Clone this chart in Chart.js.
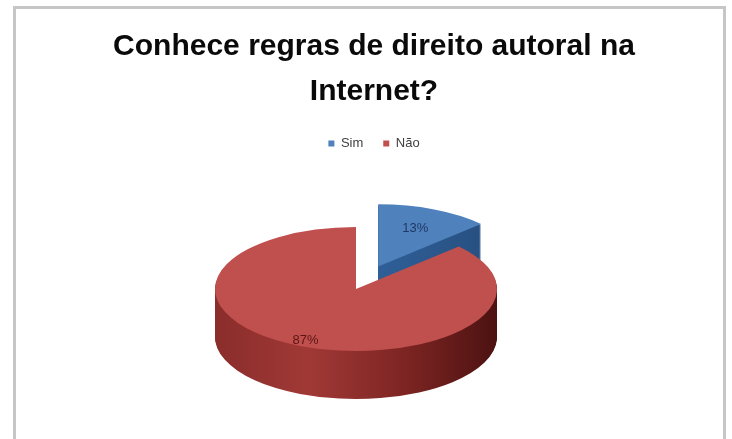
<!DOCTYPE html>
<html>
<head>
<meta charset="utf-8">
<script src="https://cdn.jsdelivr.net/npm/chart.js@4.4.0/dist/chart.umd.min.js"></script>
<style>
  body { margin: 0; background: #fff; }
  #wrap { position: relative; width: 732px; height: 439px; overflow: hidden; }
  #frame { position: absolute; left: 13px; top: 6px; width: 707px; height: 450px;
           border: 3px solid #c6c6c6; border-bottom: none; pointer-events: none; }
</style>
</head>
<body>
<div id="wrap">
  <canvas id="pieChart" width="732" height="439"></canvas>
  <div id="frame"></div>
</div>
<script>
const titleLines = ['Conhece regras de direito autoral na', 'Internet?'];
const categories = ['Sim', 'Não'];
const percentValues = [13, 87];
const sliceColors = ['#4f81bd', '#c0504d'];
const labelColors = ['#1f3864', '#5a1514'];
const sideColors = [
  ['#2c5990', '#2f5f98', '#244b79'],
  ['#8a2d2b', '#a03936', '#7e2523', '#4c1211']
];

const FONT = '"Liberation Sans", Arial, sans-serif';

// fake 3D: squash the pie and stack darker copies underneath
const pie3d = {
  id: 'pie3d',
  beforeDatasetsDraw(chart, args, opts) {
    const ctx = chart.ctx;
    const arcs = chart.getDatasetMeta(0).data;

    function place(arc, i, d) {
      const ex = opts.explode[i] || 0;
      const mid = (arc.startAngle + arc.endAngle) / 2;
      ctx.translate(opts.shiftX, opts.shiftY + d);
      ctx.translate(arc.x, arc.y);
      ctx.scale(1, opts.tilt);
      ctx.translate(-arc.x, -arc.y);
      ctx.translate(Math.cos(mid) * ex, Math.sin(mid) * ex);
    }

    function drawAs(arc, fill) {
      const ghost = Object.create(arc);
      ghost.options = Object.assign({}, arc.options, { backgroundColor: fill, borderWidth: 0, offset: 0 });
      arc.draw.call(ghost, ctx);
    }

    // sides, back slice first
    arcs.forEach((arc, i) => {
      for (let d = opts.depth; d > 0; d--) {
        ctx.save();
        place(arc, i, d);
        const g = ctx.createLinearGradient(arc.x - arc.outerRadius, 0, arc.x + arc.outerRadius, 0);
        const stops = opts.sides[i];
        stops.forEach((c, k) => g.addColorStop(k / (stops.length - 1), c));
        drawAs(arc, g);
        ctx.restore();
      }
    });

    // top faces
    arcs.forEach((arc, i) => {
      ctx.save();
      place(arc, i, 0);
      arc.draw(ctx);
      ctx.restore();
    });

    // percent labels
    const total = percentValues.reduce((a, b) => a + b, 0);
    ctx.save();
    ctx.font = '13px ' + FONT;
    ctx.textAlign = 'center';
    ctx.textBaseline = 'middle';
    arcs.forEach((arc, i) => {
      const mid = (arc.startAngle + arc.endAngle) / 2;
      const dist = (opts.explode[i] || 0) + arc.outerRadius * opts.labelAt[i];
      const x = arc.x + opts.shiftX + Math.cos(mid) * dist;
      const y = arc.y + opts.shiftY + Math.sin(mid) * dist * opts.tilt;
      ctx.fillStyle = labelColors[i];
      ctx.fillText(Math.round(percentValues[i] / total * 100) + '%', x, y);
    });
    ctx.restore();

    return false;
  }
};

const ctx = document.getElementById('pieChart').getContext('2d');
new Chart(ctx, {
  type: 'pie',
  data: {
    labels: categories,
    datasets: [{
      data: percentValues,
      backgroundColor: sliceColors,
      borderWidth: 0,
      radius: 141,
      clip: false
    }]
  },
  options: {
    responsive: false,
    animation: false,
    events: [],
    layout: { padding: { left: 16, right: 0, top: 0, bottom: 25 } },
    plugins: {
      title: {
        display: true,
        text: titleLines,
        color: '#0a0a0a',
        font: { family: FONT, size: 30, weight: 'bold', lineHeight: 1.5 },
        padding: { top: 24, bottom: 3 }
      },
      legend: {
        position: 'top',
        labels: {
          boxWidth: 6,
          boxHeight: 6,
          padding: 20,
          color: '#404040',
          font: { family: FONT, size: 13 }
        }
      },
      tooltip: { enabled: false },
      pie3d: {
        tilt: 0.44,
        depth: 48,
        shiftX: -18,
        shiftY: 2,
        explode: [56, 0],
        labelAt: [0.66, 0.9],
        sides: sideColors
      }
    }
  },
  plugins: [pie3d]
});
</script>
</body>
</html>
